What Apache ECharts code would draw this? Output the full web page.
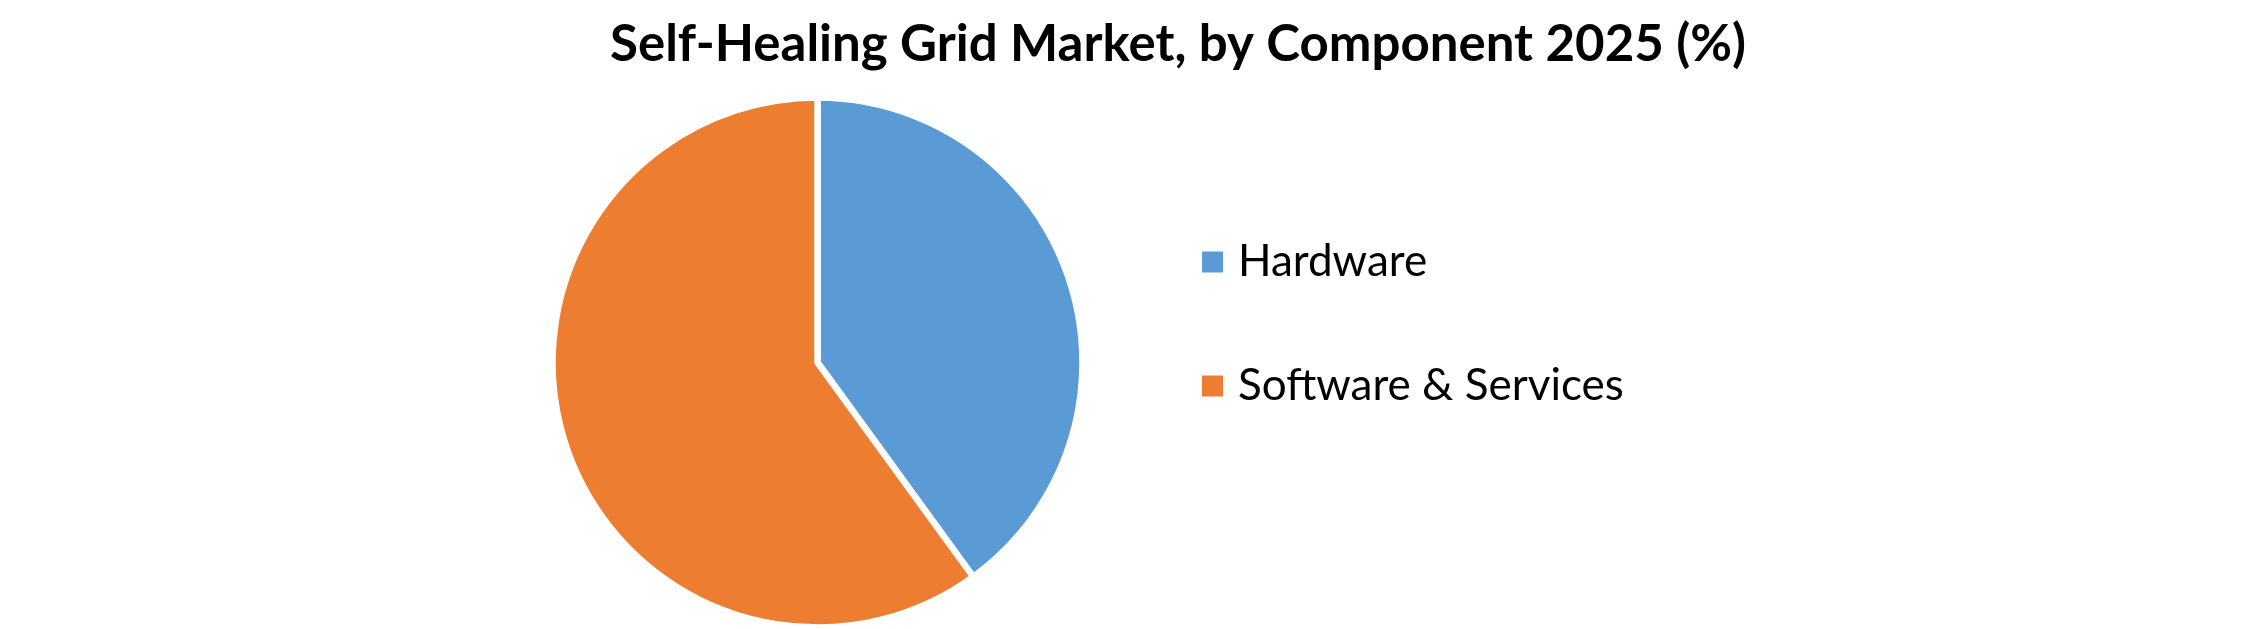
<!DOCTYPE html>
<html>
<head>
<meta charset="utf-8">
<script src="https://cdn.jsdelivr.net/npm/echarts@6/dist/echarts.min.js"></script>
<style>
html,body{margin:0;padding:0;background:#fff;}
#chart{width:2245px;height:629px;}
</style>
</head>
<body>
<div id="chart"></div>
<script>
const titleText = 'Self-Healing Grid Market, by Component 2025 (%)';
const categories = ['Hardware', 'Software & Services'];
const shares = [40, 60];
const colors = ['#5B9BD5', '#ED7D31'];

const chart = echarts.init(document.getElementById('chart'), null, {renderer: 'canvas'});
chart.setOption({
  backgroundColor: '#ffffff',
  animation: false,
  title: {
    text: titleText,
    left: 1173,
    textAlign: 'center',
    top: 10,
    textStyle: {fontFamily: 'Lato', fontWeight: 'bold', fontSize: 51, color: '#000000', lineHeight: 60}
  },
  legend: {
    orient: 'vertical',
    left: 1202,
    top: 237,
    padding: 0,
    itemWidth: 21,
    itemHeight: 21,
    itemGap: 74,
    icon: 'rect',
    itemStyle: {borderWidth: 0},
    textStyle: {fontFamily: 'Lato', fontSize: 44, color: '#000000', lineHeight: 50, padding: [0, 0, 0, 10]},
    data: categories
  },
  series: [{
    type: 'pie',
    center: [817.5, 362.5],
    radius: 265,
    startAngle: 90,
    clockwise: true,
    label: {show: false},
    labelLine: {show: false},
    itemStyle: {borderColor: '#ffffff', borderWidth: 6.5},
    emphasis: {disabled: true},
    data: categories.map((c, i) => ({name: c, value: shares[i], itemStyle: {color: colors[i]}}))
  }]
});
</script>
</body>
</html>
